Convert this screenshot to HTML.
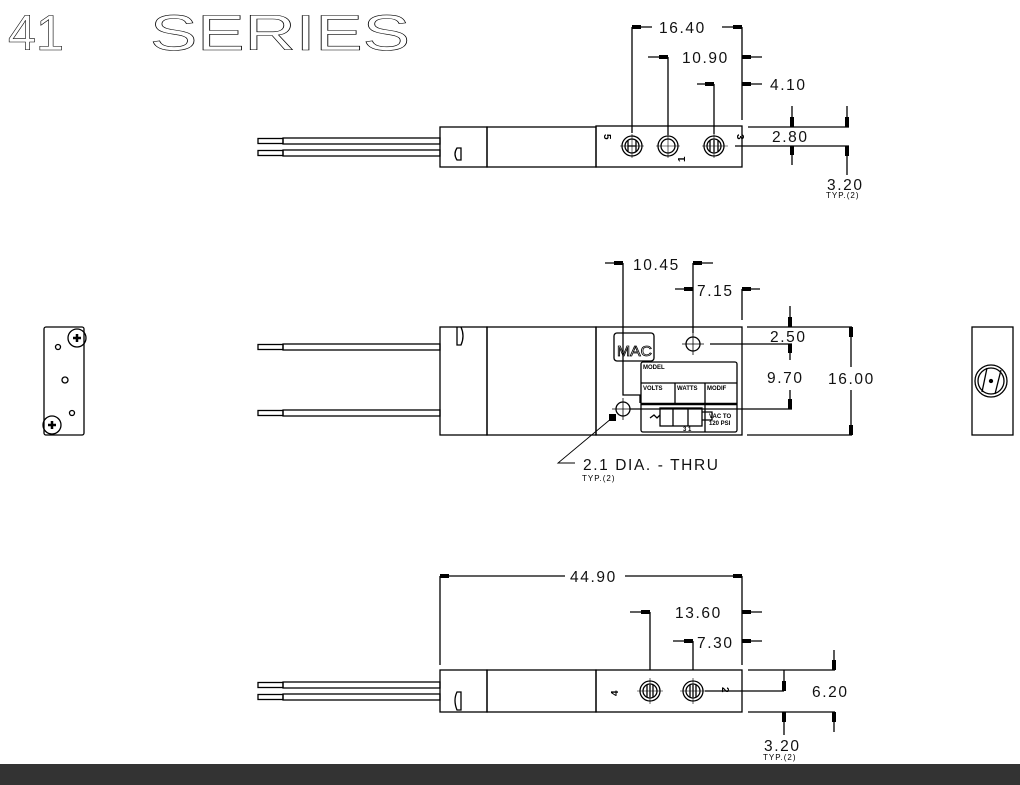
<!DOCTYPE html>
<html><head><meta charset="utf-8"><style>
html,body{margin:0;padding:0;background:#fff;}
svg{display:block}
text{font-family:"Liberation Sans",sans-serif;fill:#000}
.d{font-size:15.5px;letter-spacing:1.6px;fill:#111}
.s{font-size:8px;letter-spacing:1px}
.b{font-size:6px;font-weight:bold}
</style></head><body>
<svg width="1020" height="785" viewBox="0 0 1020 785" xmlns="http://www.w3.org/2000/svg">
<rect width="1020" height="785" fill="#fff"/>
<!-- title -->
<text x="8" y="50" font-size="50" stroke="#000" stroke-width="0.6" style="fill:none" textLength="56" lengthAdjust="spacingAndGlyphs">41</text>
<text x="150" y="50" font-size="50" stroke="#000" stroke-width="0.6" style="fill:none" textLength="260" lengthAdjust="spacingAndGlyphs">SERIES</text>

<g stroke="#000" stroke-width="1.3" fill="none">
<!-- ===== TOP VIEW ===== -->
<rect x="258" y="138.5" width="25" height="5"/><rect x="283" y="138" width="157" height="6"/>
<rect x="258" y="150.5" width="25" height="5"/><rect x="283" y="150" width="157" height="6"/>
<rect x="440" y="127" width="47" height="40"/>
<path d="M457 148 q-4 6 0 12 h4 v-12 z"/>
<rect x="487" y="127" width="109" height="40"/>
<rect x="596" y="126" width="146" height="41"/>
<circle cx="632" cy="146" r="10"/><circle cx="632" cy="146" r="7"/>
<circle cx="668" cy="146" r="10"/><circle cx="668" cy="146" r="7"/>
<circle cx="714" cy="146" r="10"/><circle cx="714" cy="146" r="7"/>
<path d="M628 140v12M636 140v12M628 146h8M710 140v12M718 140v12M714 140v12"/>
<path d="M620 146h24M656 146h24M702 146h26M632 134v24M668 134v24M714 134v24" stroke-width="0.6"/>
<path d="M735 146h114M748 127h101"/>
<!-- dims top -->
<path d="M632 27v106M632 27h20M722 27h20M742 27v93M668 57v78M648 57h20M742 57h20M714 84v50M697 84h17M742 84h20"/>
<path d="M792 106v21M792 146v19M847 106v21M847 146v29"/>
<!-- ===== MIDDLE VIEW ===== -->
<rect x="258" y="344.5" width="25" height="5"/><rect x="283" y="344" width="157" height="6"/>
<rect x="258" y="410.5" width="25" height="5"/><rect x="283" y="410" width="157" height="6"/>
<rect x="440" y="327" width="47" height="108"/>
<path d="M457 327 v18 h4 q4 -9 0 -18"/>
<rect x="487" y="327" width="109" height="108"/>
<rect x="596" y="327" width="146" height="108"/>
<rect x="614" y="333" width="40" height="28" rx="3"/>
<rect x="641" y="362" width="96" height="70" rx="2"/>
<path d="M641 383h96M675 383v21M705 383v49"/>
<path d="M641 404h96" stroke-width="2.5"/>
<rect x="660" y="408" width="42" height="18"/>
<path d="M673 408v18M688 408v18M650 418l4-3 3 3 3-3M702 412h10v8h-10"/>
<circle cx="693" cy="344" r="7"/><path d="M682 344h22M693 333v22" stroke-width="0.8"/>
<circle cx="623" cy="409" r="7"/><path d="M612 409h22M623 398v22" stroke-width="0.8"/>
<!-- dims middle -->
<path d="M623 263v132h17v8M605 263h18M693 263v70M693 263h20M675 289h18M742 289h18M742 289v31"/>
<path d="M710 344h82M630 409h162M747 327h105M747 435h105"/>
<path d="M790 306v21M790 344v16M790 390v19M851 327v40M851 390v45"/>
<path d="M612 418L558 463h17" stroke-width="0.9"/>
<!-- ===== BOTTOM VIEW ===== -->
<rect x="258" y="682.5" width="25" height="5"/><rect x="283" y="682" width="157" height="6"/>
<rect x="258" y="694.5" width="25" height="5"/><rect x="283" y="694" width="157" height="6"/>
<rect x="440" y="670" width="47" height="42"/>
<path d="M457 692 q-4 8 0 18 h4 v-18 z"/>
<rect x="487" y="670" width="109" height="42"/>
<rect x="596" y="670" width="146" height="42"/>
<circle cx="650" cy="691" r="10"/><circle cx="650" cy="691" r="7"/>
<circle cx="693" cy="691" r="10"/><circle cx="693" cy="691" r="7"/>
<path d="M647 685v12M650 685v12M653 685v12M690 685v12M693 685v12M696 685v12"/>
<path d="M637 691h26M680 691h26M650 678v26M693 678v26" stroke-width="0.6"/>
<path d="M440 576v89M742 576v89M440 576h125M625 576h117M650 612v58M630 612h20M742 612h20M693 641v29M673 641h20M742 641h20"/>
<path d="M705 691h79M748 670h87M748 712h87M784 670v21M784 712v23M834 650v20M834 712v20"/>
<!-- end views -->
<rect x="44" y="327" width="40" height="108" rx="2"/>
<circle cx="77" cy="338" r="9"/><circle cx="52" cy="425" r="9"/>
<path d="M73 338h8M77 334v8M48 425h8M52 421v8" stroke-width="2.5"/>
<circle cx="58" cy="347" r="2.5"/><circle cx="65" cy="380" r="3"/><circle cx="72" cy="413" r="2.5"/>
<rect x="972" y="327" width="41" height="108"/>
<circle cx="991" cy="381" r="16"/><circle cx="991" cy="381" r="13"/>
<path d="M982 392l5-24M995 394l6-24"/>
<circle cx="991" cy="381" r="1.5" fill="#000"/>
</g>
<!-- thick ticks -->
<g fill="#000">
<rect x="632" y="25" width="9" height="4"/><rect x="733" y="25" width="9" height="4"/>
<rect x="659" y="55" width="9" height="4"/><rect x="742" y="55" width="9" height="4"/>
<rect x="705" y="82" width="9" height="4"/><rect x="742" y="82" width="9" height="4"/>
<rect x="790" y="117" width="4" height="10"/><rect x="790" y="146" width="4" height="9"/>
<rect x="845" y="117" width="4" height="10"/><rect x="845" y="146" width="4" height="10"/>
<rect x="614" y="261" width="9" height="4"/><rect x="693" y="261" width="9" height="4"/>
<rect x="684" y="287" width="9" height="4"/><rect x="742" y="287" width="9" height="4"/>
<rect x="788" y="317" width="4" height="10"/><rect x="788" y="344" width="4" height="9"/>
<rect x="788" y="399" width="4" height="10"/>
<rect x="849" y="327" width="4" height="10"/><rect x="849" y="425" width="4" height="10"/>
<rect x="609" y="414" width="7" height="7"/>
<rect x="440" y="574" width="9" height="4"/><rect x="733" y="574" width="9" height="4"/>
<rect x="641" y="610" width="9" height="4"/><rect x="742" y="610" width="9" height="4"/>
<rect x="684" y="639" width="9" height="4"/><rect x="742" y="639" width="9" height="4"/>
<rect x="782" y="681" width="4" height="10"/><rect x="782" y="712" width="4" height="10"/>
<rect x="832" y="660" width="4" height="10"/><rect x="832" y="712" width="4" height="10"/>
</g>
<!-- text -->
<text class="d" x="659" y="33">16.40</text>
<text class="d" x="682" y="63">10.90</text>
<text class="d" x="770" y="90">4.10</text>
<text class="d" x="772" y="142">2.80</text>
<text class="d" x="827" y="190">3.20</text>
<text class="s" x="826" y="198">TYP.(2)</text>
<text class="d" x="633" y="270">10.45</text>
<text class="d" x="697" y="296">7.15</text>
<text class="d" x="770" y="342">2.50</text>
<text class="d" x="767" y="383">9.70</text>
<text class="d" x="828" y="384">16.00</text>
<text class="d" x="583" y="470">2.1 DIA. - THRU</text>
<text class="s" x="582" y="481">TYP.(2)</text>
<text class="d" x="570" y="582">44.90</text>
<text class="d" x="675" y="618">13.60</text>
<text class="d" x="697" y="648">7.30</text>
<text class="d" x="812" y="697">6.20</text>
<text class="d" x="764" y="751">3.20</text>
<text class="s" x="763" y="760">TYP.(2)</text>
<text x="617" y="356" font-size="15" style="fill:none" stroke="#000" stroke-width="0.8" textLength="35" lengthAdjust="spacingAndGlyphs">MAC</text>
<text class="b" x="643" y="369">MODEL</text>
<text class="b" x="643" y="390">VOLTS</text>
<text class="b" x="677" y="390">WATTS</text>
<text class="b" x="707" y="390">MODIF</text>
<text class="b" x="709" y="418">VAC TO</text>
<text class="b" x="709" y="425">120 PSI</text>
<text class="b" x="683" y="431">3 1</text>
<g font-size="10" font-weight="bold">
<text x="604" y="134" transform="rotate(90 604 134)">5</text>
<text x="737" y="134" transform="rotate(90 737 134)">3</text>
<text x="685" y="162" transform="rotate(-90 685 162)">1</text>
<text x="618" y="696" transform="rotate(-90 618 696)">4</text>
<text x="722" y="687" transform="rotate(90 722 687)">2</text>
</g>
<rect x="0" y="764" width="1020" height="21" fill="#333"/>
</svg>
</body></html>
